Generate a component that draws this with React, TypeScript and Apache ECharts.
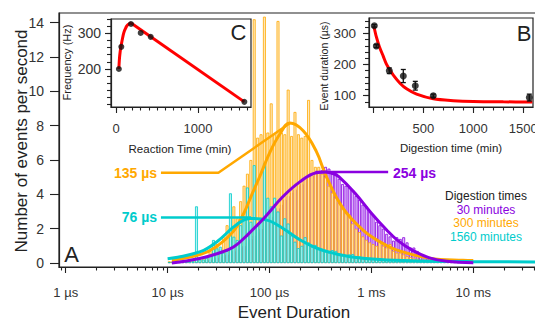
import React, { useEffect, useRef } from 'react';
import * as echarts from 'echarts';

const FONT = 'Liberation Sans, Arial, Helvetica, sans-serif';

// ---------- Main panel A: log-binned histograms (events per second) ----------
const BIN_START_US = 10;
const BINS_PER_DECADE = 30;

const HIST_30MIN = [
  0.05, 0.05, 0.05, 0.05, 0.05, 0.05, 0.05, 0.05, 0.05, 0.05,
  0.1, 0.15, 0.2, 0.25, 0.3, 0.35, 0.4, 0.5, 0.55, 0.7,
  0.8, 0.9, 1.0, 1.2, 1.4, 1.6, 1.8, 2.0, 2.2, 2.5,
  2.7, 3.0, 3.2, 3.4, 3.7, 3.9, 4.1, 4.3, 4.5, 4.6,
  4.9, 5.0, 5.1, 5.2, 5.3, 5.4, 5.6, 5.5, 5.2, 5.3,
  4.9, 4.6, 4.5, 4.4, 4.25, 3.9, 3.7, 3.4, 3.3, 3.0,
  2.8, 2.4, 2.2, 2.0, 1.7, 1.55, 1.3, 1.5, 1.4, 1.5,
  1.2, 0.9, 0.9, 0.7, 0.5, 0.35, 0.25, 0.2, 0.15, 0.1,
  0.08, 0.06, 0.05, 0.05, 0.05, 0.05, 0.05, 0.05, 0.05, 0.05,
];

const HIST_300MIN = [
  0.1, 0.1, 0.1, 0.1, 0.1, 0.15, 0.15, 0.2, 0.2, 0.25,
  0.3, 0.4, 0.7, 0.9, 1.1, 0.8, 1.5, 2.2, 1.8, 3.3,
  2.6, 3.6, 4.5, 5.2, 6.0, 14.2, 7.3, 7.5, 14.35, 7.6,
  9.3, 7.5, 14.1, 7.6, 7.5, 10.1, 7.4, 8.8, 7.5, 7.3,
  7.4, 9.5, 6.0, 5.6, 5.6, 5.2, 5.0, 4.5, 4.1, 3.8,
  3.5, 3.3, 3.0, 2.8, 2.3, 2.0, 1.8, 1.55, 1.35, 1.2,
  1.1, 1.0, 1.3, 1.0, 0.9, 1.1, 0.7, 0.6, 0.6, 0.5,
  0.4, 0.35, 0.3, 0.25, 0.2, 0.18, 0.15, 0.12, 0.12, 0.12,
  0.12, 0.12, 0.12, 0.12, 0.12, 0.12, 0.12, 0.12, 0.12, 0.12,
];

const HIST_1560MIN = [
  0.05, 0.05, 0.05, 0.05, 0.05, 0.1, 0.1, 0.1, 3.3, 0.2,
  0.2, 0.3, 0.4, 1.34, 0.85, 0.95, 0.6, 0.7, 4.06, 1.53,
  1.34, 2.2, 2.7, 4.4, 2.4, 5.7, 2.2, 2.6, 5.8, 3.8,
  3.3, 3.8, 3.0, 1.6, 2.6, 2.3, 1.6, 1.24, 0.87, 1.0,
  1.5, 1.2, 0.95, 1.05, 0.85, 0.75, 0.66, 0.6, 0.75, 0.7,
  0.55, 0.5, 0.45, 0.5, 0.52, 0.4, 0.38, 0.35, 0.33, 0.3,
  0.28, 0.25, 0.25, 0.22, 0.2, 0.2, 0.18, 0.16, 0.15, 0.14,
  0.13, 0.12, 0.12, 0.11, 0.1, 0.1, 0.1, 0.1, 0.1, 0.1,
  0.1, 0.1, 0.1, 0.1, 0.1, 0.1, 0.1, 0.1, 0.1, 0.1,
];

// fitted curves: [duration in µs, events per second]
const FIT_30MIN: [number, number][] = [
  [11, 0.0], [20, 0.25], [31.6, 0.57], [44.7, 0.95], [63, 1.73], [91, 2.7], [135, 3.86],
  [200, 4.74], [288, 5.26], [355, 5.3], [427, 5.2], [479, 5.03], [692, 4.06], [1000, 2.9],
  [1413, 1.92], [1778, 1.35], [2512, 0.75], [3715, 0.3], [5495, 0.1], [10000, 0.02],
];
const FIT_300MIN: [number, number][] = [
  [11, 0.15], [21, 0.5], [30, 0.95], [45, 1.9], [56, 2.9], [65, 3.8], [81, 5.1], [100, 6.4],
  [126, 7.5], [158, 8.15], [214, 7.7], [288, 6.5], [363, 5.0], [525, 3.2], [832, 1.9],
  [1200, 1.25], [1780, 0.75], [3720, 0.28], [7940, 0.16], [10000, 0.15],
];
const FIT_1560MIN: [number, number][] = [
  [10, 0.25], [21, 0.66], [30.5, 1.24], [44.4, 2.1], [55.6, 2.5], [64.6, 2.6], [94.4, 2.5],
  [137, 2.0], [200, 1.34], [292, 0.86], [424, 0.57], [617, 0.37], [1216, 0.2], [3020, 0.12],
  [10000, 0.08], [55000, 0.06],
];

// leader lines for the peak labels: [µs, events per second]
const LEAD_135: [number, number][] = [[8.6, 5.26], [31.5, 5.26], [158, 8.14]];
const LEAD_76: [number, number][] = [[8.6, 2.65], [66, 2.65]];
const LEAD_254: [number, number][] = [[282, 5.3], [1460, 5.3]];

const X_TICK_US = [1, 10, 100, 1000, 10000];
const X_TICK_LABELS = ['1 µs', '10 µs', '100 µs', '1 ms', '10 ms'];
const Y_TICKS = [0, 2, 4, 6, 8, 10, 12, 14];

// ---------- Inset C: frequency vs reaction time ----------
const C_POINTS: [number, number][] = [[35, 200], [65, 262], [183, 326], [301, 301], [423, 290], [1565, 108]];
// rising part of the fit (curved) and the falling part (straight)
const C_FIT_RISE: [number, number][] = [
  [35, 200], [38, 215], [43, 232], [50, 247], [58, 260], [67, 271], [78, 284], [89, 296],
  [100, 305], [115, 313], [130, 320], [150, 325], [170, 328], [183, 329],
];
const C_FIT_FALL: [number, number][] = [[183, 329], [1565, 108]];
const C_X_LABELS = [0, 1000];
const C_Y_LABELS = [200, 300];

// ---------- Inset B: event duration vs digestion time ----------
// [minutes, µs, error µs]
const B_POINTS: [number, number, number][] = [
  [10, 324, 4], [30, 259, 5], [160, 180, 9], [300, 163, 21], [420, 132, 14], [600, 100, 5], [1560, 94, 11],
];
const B_FIT: [number, number][] = [
  [7, 321], [30, 289], [60, 258], [100, 226], [130, 202], [167, 182], [200, 166], [267, 140],
  [333, 122], [433, 105], [600, 90], [800, 84], [1000, 81.3], [1300, 80.3], [1590, 80],
];
const B_X_LABELS = [500, 1000, 1500];
const B_Y_LABELS = [100, 200, 300];

const PURPLE = '#8A00E0';
const ORANGE = '#FFA800';
const CYAN = '#00CCCC';
const INK = '#222';
const LABEL = '#333';

const lg = Math.log10;
const binCenter = (i: number) => lg(BIN_START_US) + (i + 0.5) / BINS_PER_DECADE;
const range = (a: number, b: number, s: number) => {
  const r: number[] = [];
  for (let v = a; v <= b + 1e-9; v += s) r.push(v);
  return r;
};
const plain = (v: number) => String(Math.round(v));

export default function App() {
  const ref = useRef<HTMLDivElement>(null);
  useEffect(() => {
    if (!ref.current) return;
    const chart = echarts.init(ref.current, undefined, { renderer: 'svg' });

    const X_MIN = -0.066;
    const X_MAX = 4.743;
    const minorX: number[] = [];
    for (let d = -1; d <= 4; d++) {
      for (let m = 2; m <= 9; m++) {
        const v = d + lg(m);
        if (v > X_MIN && v < X_MAX) minorX.push(v);
      }
    }

    const axisLine = { show: true, onZero: false, lineStyle: { color: INK, width: 1.2 } };
    const noLine = { show: false, onZero: false };
    const tickStyle = { color: INK, width: 1.1 };

    const histSeries = (data: number[], fill: string, stroke: string) => ({
      type: 'bar',
      xAxisIndex: 0,
      yAxisIndex: 0,
      barWidth: 2.9,
      barGap: '-100%',
      silent: true,
      data: data.map((v, i) => [binCenter(i), v]),
      itemStyle: { color: fill, borderColor: stroke, borderWidth: 0.8 },
      z: 2,
    });
    const lineSeries = (data: [number, number][], color: string, width: number, smooth: number | boolean, z: number) => ({
      type: 'line',
      xAxisIndex: 0,
      yAxisIndex: 0,
      data: data.map(([u, v]) => [lg(u), v]),
      showSymbol: false,
      smooth,
      silent: true,
      lineStyle: { color, width },
      z,
    });

    const text = (t: string, x: number, y: number, size: number, color: string, opts: any = {}) => ({
      type: 'text',
      x,
      y,
      rotation: opts.rotation || 0,
      z: 100,
      silent: true,
      style: {
        text: t,
        fill: color,
        fontSize: size,
        fontFamily: FONT,
        fontWeight: opts.bold ? 'bold' : 'normal',
        textAlign: opts.align || 'center',
        align: opts.align || 'center',
        textVerticalAlign: 'middle',
        verticalAlign: 'middle',
      },
    });

    const option: any = {
      animation: false,
      backgroundColor: '#fff',
      textStyle: { fontFamily: FONT },
      grid: [
        { left: 59, top: 13, width: 490, height: 254, show: true, borderColor: INK, borderWidth: 1.2, backgroundColor: 'transparent', outerBoundsMode: 'none' },
        { left: 111, top: 19, width: 140, height: 88, show: true, borderColor: INK, borderWidth: 1.2, backgroundColor: '#fff', outerBoundsMode: 'none' },
        { left: 369, top: 18, width: 164, height: 89, show: true, borderColor: INK, borderWidth: 1.2, backgroundColor: '#fff', outerBoundsMode: 'none' },
      ],
      xAxis: [
        {
          type: 'value', gridIndex: 0, min: X_MIN, max: X_MAX, position: 'bottom',
          axisLine, splitLine: { show: false },
          axisTick: { show: true, customValues: X_TICK_US.map(lg), length: 6, lineStyle: tickStyle },
          axisLabel: {
            customValues: X_TICK_US.map(lg), margin: 19, fontSize: 13, color: LABEL, fontFamily: FONT,
            formatter: (v: number) => {
              const k = X_TICK_US.findIndex((u) => Math.abs(lg(u) - v) < 1e-6);
              return k >= 0 ? X_TICK_LABELS[k] : '';
            },
          },
        },
        {
          type: 'value', gridIndex: 0, min: X_MIN, max: X_MAX, position: 'bottom',
          axisLine: noLine, splitLine: { show: false }, axisLabel: { show: false },
          axisTick: { show: true, customValues: minorX, length: 3.5, lineStyle: tickStyle },
        },
        {
          type: 'value', gridIndex: 1, min: -61, max: 1646, position: 'bottom',
          axisLine, splitLine: { show: false },
          axisTick: { show: true, customValues: C_X_LABELS, length: 6, lineStyle: tickStyle },
          axisLabel: { customValues: C_X_LABELS, formatter: plain, margin: 15, fontSize: 13, color: LABEL, fontFamily: FONT },
        },
        {
          type: 'value', gridIndex: 1, min: -61, max: 1646, position: 'bottom',
          axisLine: noLine, splitLine: { show: false }, axisLabel: { show: false },
          axisTick: { show: true, customValues: range(0, 1600, 100), length: 3.5, lineStyle: tickStyle },
        },
        {
          type: 'value', gridIndex: 2, min: -43, max: 1597, position: 'bottom',
          axisLine, splitLine: { show: false },
          axisTick: { show: true, customValues: [0, ...B_X_LABELS], length: 6, lineStyle: tickStyle },
          axisLabel: { customValues: B_X_LABELS, formatter: plain, margin: 15, fontSize: 13, color: LABEL, fontFamily: FONT },
        },
        {
          type: 'value', gridIndex: 2, min: -43, max: 1597, position: 'bottom',
          axisLine: noLine, splitLine: { show: false }, axisLabel: { show: false },
          axisTick: { show: true, customValues: range(0, 1500, 100), length: 3.5, lineStyle: tickStyle },
        },
      ],
      yAxis: [
        {
          type: 'value', gridIndex: 0, min: -0.233, max: 14.566, position: 'left',
          axisLine, splitLine: { show: false },
          axisTick: { show: true, customValues: Y_TICKS, length: 9, lineStyle: tickStyle },
          axisLabel: { customValues: Y_TICKS, margin: 15, fontSize: 14, color: LABEL, fontFamily: FONT },
        },
        {
          type: 'value', gridIndex: 1, min: 93.6, max: 340, position: 'left',
          axisLine, splitLine: { show: false },
          axisTick: { show: true, customValues: C_Y_LABELS, length: 6, lineStyle: tickStyle },
          axisLabel: { customValues: C_Y_LABELS, formatter: plain, margin: 10, fontSize: 14, color: LABEL, fontFamily: FONT },
        },
        {
          type: 'value', gridIndex: 1, min: 93.6, max: 340, position: 'left',
          axisLine: noLine, splitLine: { show: false }, axisLabel: { show: false },
          axisTick: { show: true, customValues: range(100, 340, 20), length: 4, lineStyle: tickStyle },
        },
        {
          type: 'value', gridIndex: 2, min: 63.8, max: 349, position: 'left',
          axisLine, splitLine: { show: false },
          axisTick: { show: true, customValues: B_Y_LABELS, length: 6, lineStyle: tickStyle },
          axisLabel: { customValues: B_Y_LABELS, formatter: plain, margin: 13, fontSize: 13.5, color: LABEL, fontFamily: FONT },
        },
        {
          type: 'value', gridIndex: 2, min: 63.8, max: 349, position: 'left',
          axisLine: noLine, splitLine: { show: false }, axisLabel: { show: false },
          axisTick: { show: true, customValues: range(80, 340, 20), length: 4, lineStyle: tickStyle },
        },
      ],
      series: [
        histSeries(HIST_30MIN, '#E6CCFF', PURPLE),
        histSeries(HIST_300MIN, '#FFE9BD', ORANGE),
        histSeries(HIST_1560MIN, '#B5F3F3', CYAN),
        lineSeries(FIT_300MIN, ORANGE, 3, 0.4, 5),
        lineSeries(FIT_1560MIN, CYAN, 3, 0.4, 6),
        lineSeries(FIT_30MIN, PURPLE, 3, 0.4, 7),
        lineSeries(LEAD_135, ORANGE, 2.5, false, 5),
        lineSeries(LEAD_76, CYAN, 2.5, false, 6),
        lineSeries(LEAD_254, PURPLE, 2.5, false, 7),
        {
          type: 'line', xAxisIndex: 2, yAxisIndex: 1, data: C_FIT_RISE, showSymbol: false, smooth: 0.3,
          lineStyle: { color: '#FF0000', width: 3 }, silent: true, z: 5,
        },
        {
          type: 'line', xAxisIndex: 2, yAxisIndex: 1, data: C_FIT_FALL, showSymbol: false, smooth: false,
          lineStyle: { color: '#FF0000', width: 3 }, silent: true, z: 5,
        },
        {
          type: 'scatter', xAxisIndex: 2, yAxisIndex: 1, data: C_POINTS, symbolSize: 6,
          itemStyle: { color: '#111' }, silent: true, z: 6,
        },
        {
          type: 'line', xAxisIndex: 4, yAxisIndex: 3, data: B_FIT, showSymbol: false, smooth: 0.3,
          lineStyle: { color: '#FF0000', width: 3 }, silent: true, z: 5,
        },
        {
          type: 'custom', xAxisIndex: 4, yAxisIndex: 3, data: B_POINTS, silent: true, z: 6,
          encode: { x: 0, y: 1 },
          renderItem: (params: any, api: any) => {
            const x = api.value(0);
            const y = api.value(1);
            const e = api.value(2);
            const top = api.coord([x, y + e]);
            const bot = api.coord([x, y - e]);
            const st = { stroke: '#111', lineWidth: 1.3 };
            return {
              type: 'group',
              children: [
                { type: 'line', shape: { x1: top[0], y1: top[1], x2: bot[0], y2: bot[1] }, style: st },
                { type: 'line', shape: { x1: top[0] - 2.5, y1: top[1], x2: top[0] + 2.5, y2: top[1] }, style: st },
                { type: 'line', shape: { x1: bot[0] - 2.5, y1: bot[1], x2: bot[0] + 2.5, y2: bot[1] }, style: st },
              ],
            };
          },
        },
        {
          type: 'scatter', xAxisIndex: 4, yAxisIndex: 3, data: B_POINTS.map((p) => [p[0], p[1]]), symbolSize: 7,
          itemStyle: { color: '#111' }, silent: true, z: 7,
        },
      ],
      graphic: [
        text('Number of events per second', 21, 141, 17, INK, { rotation: Math.PI / 2 }),
        text('Event Duration', 294, 312, 17, INK),
        text('A', 71.5, 254, 22, INK),
        text('C', 238.5, 32.5, 22, INK),
        text('B', 524, 33, 22, INK),
        text('Frequency (Hz)', 66.5, 62.5, 11, INK, { rotation: Math.PI / 2 }),
        text('Reaction Time (min)', 180, 149, 11.5, INK),
        text('Event duration (µs)', 323.5, 66, 10.5, INK, { rotation: Math.PI / 2 }),
        text('Digestion time (min)', 451, 148, 11.5, INK),
        text('135 µs', 157, 172.5, 14, ORANGE, { bold: true, align: 'right' }),
        text('76 µs', 157, 217, 14, CYAN, { bold: true, align: 'right' }),
        text('254 µs', 393, 173, 14, PURPLE, { bold: true, align: 'left' }),
        text('Digestion times', 486, 196, 12, INK),
        text('30 minutes', 486, 210, 12, PURPLE),
        text('300 minutes', 486, 223, 12, ORANGE),
        text('1560 minutes', 486, 237, 12, CYAN),
      ],
    };

    chart.setOption(option);
    return () => chart.dispose();
  }, []);

  return (
    <div
      ref={ref}
      style={{ position: 'fixed', left: 0, top: 0, width: 535, height: 322, background: '#fff' }}
    />
  );
}
